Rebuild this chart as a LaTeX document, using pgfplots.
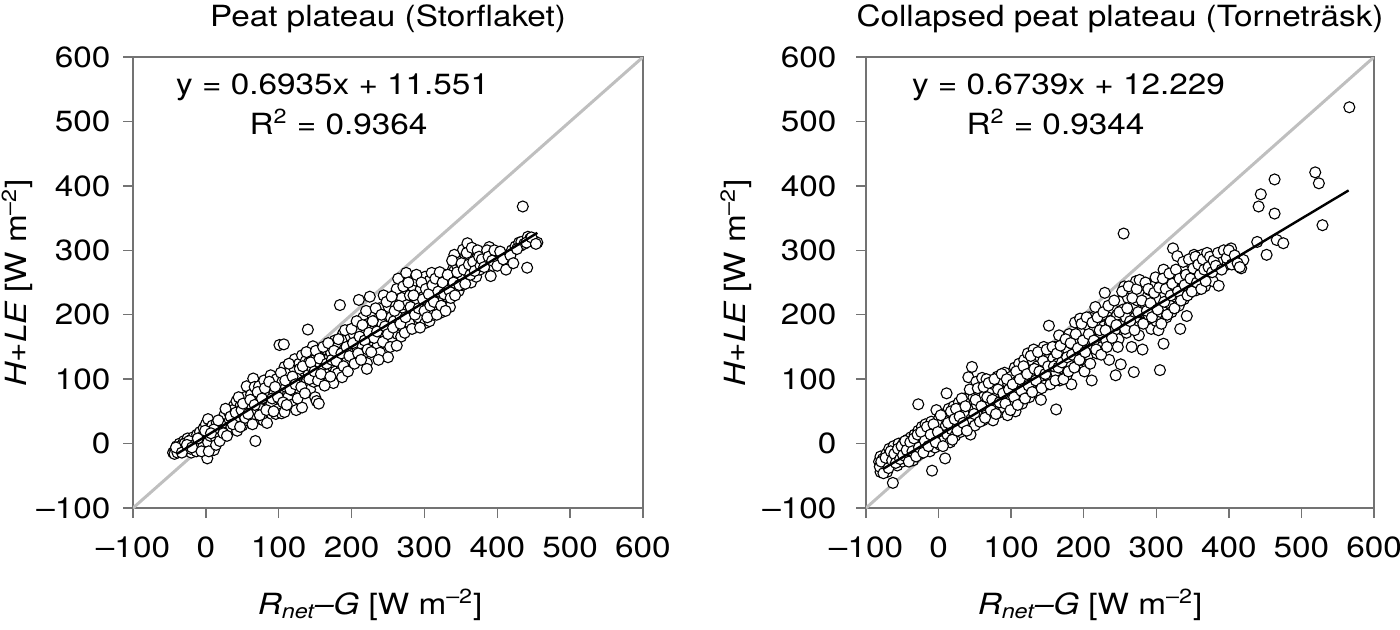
\documentclass[border=0pt]{standalone}
\usepackage{fontspec}
\setmainfont{TeX Gyre Heros}[FakeStretch=1.14]
\usepackage{pgfplots}
\pgfplotsset{compat=1.18}
\usepackage{pgfplotstable}

\pgfplotstableread{
x y
-45 -14
-42 -10
-40 -4
-38 -12
-36 0
-34 -8
-32 -2
-30 4
-30 -12
-28 -6
-27 2
-25 8
-24 -10
-22 -2
-20 6
-20 -14
-18 0
-17 10
-15 -8
-14 4
-12 14
-12 -4
-10 2
-9 -10
-8 18
-7 6
-5 -2
-4 12
-3 24
-2 -8
0 30
0 6
1 16
2 -23
3 38
4 10
5 -4
6 24
8 -6
9 28
10 14
11 -10
12 3
13 20
15 32
16 8
18 22
20 30
21 12
23 38
25 22
26 46
28 30
30 18
31 50
33 36
35 26
36 44
38 58
39 53
40 30
42 66
43 20
44 48
46 40
48 60
50 28
52 44
53 72
55 54
56 89
57 36
59 62
60 48
62 76
63 58
65 101
66 40
67 88
68 4
69 70
70 52
72 64
73 89
75 38
76 80
78 58
79 36
80 98
82 68
84 32
85 84
86 56
88 74
89 106
90 62
92 90
94 78
96 46
97 100
98 53
100 84
101 153
102 70
104 47
105 96
107 154
108 119
108 49
110 88
112 102
113 72
115 110
117 60
118 94
120 82
121 118
122 131
124 52
125 100
127 86
128 124
130 106
132 137
132 56
134 92
135 112
137 128
139 98
140 177
141 125
141 109
143 84
145 140
146 118
147 151
148 96
150 130
150 72
152 66
153 110
155 62
155 138
157 124
159 141
160 100
162 116
164 128
165 146
167 108
169 97
170 134
172 141
174 120
175 94
177 160
178 112
180 150
181 109
183 132
184 215
185 124
187 103
188 170
190 146
192 160
194 128
196 176
198 152
199 166
201 140
203 170
205 181
206 132
208 148
210 223
210 162
212 176
214 154
216 196
217 141
219 170
221 125
221 116
223 186
225 228
226 160
228 200
230 150
232 178
234 192
236 153
238 210
239 141
240 166
242 186
244 230
245 172
247 200
249 156
250 134
251 212
252 178
254 196
256 164
258 190
260 232
261 215
262 240
263 170
264 256
266 200
268 166
269 226
270 182
272 210
273 172
275 265
276 215
277 196
279 188
280 230
282 204
284 244
286 214
288 253
290 222
291 196
293 234
295 240
297 210
299 228
301 259
301 187
303 218
305 244
307 253
307 190
309 226
310 265
312 200
314 236
316 215
318 248
320 230
322 259
322 203
324 242
326 222
328 262
330 236
331 228
333 248
335 212
337 253
339 270
341 268
341 293
343 244
344 278
346 258
347 237
349 282
350 264
352 246
353 256
353 301
355 276
357 290
359 311
360 266
362 284
364 250
366 296
368 290
368 301
370 276
371 259
372 288
374 281
376 270
378 296
380 290
384 284
389 305
391 260
394 276
398 282
402 290
406 294
410 278
413 284
416 280
420 300
425 306
430 312
432 307
433 313
435 368
437 310
441 273
442 321
445 318
451 314
455 312
-43 -16
-39 -14
-35 -4
-31 -10
-29 0
-23 4
-21 -8
-16 -2
-13 -12
-7 0
-4 -6
3 2
6 12
11 22
14 8
-41 -6
-33 -14
-26 -2
-19 -6
-11 8
-6 -12
-1 20
4 -12
7 16
14 -2
17 36
19 4
24 16
27 54
29 12
34 42
37 30
41 48
45 72
47 26
49 52
51 62
54 40
58 46
61 68
64 30
67 60
71 80
74 44
77 70
81 86
83 52
87 96
91 70
93 50
95 88
99 72
103 110
106 64
109 98
111 60
114 124
116 84
119 104
123 92
126 70
129 116
131 88
133 120
136 78
138 142
142 100
144 126
149 112
151 144
154 98
156 132
158 108
161 150
163 90
166 124
168 156
171 104
173 130
176 144
179 128
182 162
186 140
189 120
191 176
193 150
195 112
197 136
200 178
202 156
204 124
207 190
209 140
211 166
213 130
215 184
218 160
220 206
222 146
224 172
227 142
229 190
231 164
233 210
235 174
237 130
241 200
243 158
246 182
248 220
250 170
253 150
255 228
257 180
259 206
262 152
265 214
267 186
271 244
274 196
278 250
281 212
283 178
285 230
287 200
289 262
292 210
294 180
296 250
298 224
300 206
302 240
304 196
306 232
308 214
311 246
313 220
315 256
317 200
319 236
321 266
323 214
325 250
327 232
329 206
332 262
334 238
336 226
338 284
340 250
342 230
345 266
348 246
351 280
354 270
356 248
358 296
361 278
363 262
365 304
367 282
369 268
373 300
375 290
377 276
379 286
382 274
386 300
388 290
393 284
396 300
400 276
404 298
408 286
412 270
418 292
422 280
427 302
440 312
447 320
453 310
}\storflaket

\pgfplotstableread{
x y
-82 -28
-80 -44
-80 -20
-78 -36
-77 -24
-75 -40
-74 -30
-72 -16
-71 -44
-70 -26
-68 -8
-67 -34
-65 -18
-63 -61
-63 -30
-62 -4
-60 -22
-58 -12
-57 -34
-55 0
-54 -20
-52 -8
-50 -28
-48 2
-47 -14
-45 -24
-43 6
-42 -6
-40 -18
-38 10
-37 -2
-35 -26
-33 14
-32 2
-30 -10
-28 61
-28 20
-26 6
-25 -16
-23 26
-22 -4
-20 12
-18 30
-17 -8
-15 4
-13 22
-12 -12
-10 34
-9 -42
-8 8
-6 16
-5 -6
-3 52
-2 26
0 10
1 40
2 -2
4 20
5 32
7 6
8 46
9 -23
10 28
11 78
12 14
14 54
15 36
16 2
18 22
20 44
21 58
23 12
25 30
27 48
28 64
30 18
31 40
33 56
35 24
36 70
38 46
40 30
41 103
42 62
44 14
45 38
46 119
47 54
48 72
50 28
52 96
53 60
55 44
56 82
58 66
60 102
61 36
63 74
65 54
66 100
68 86
70 42
71 64
73 80
75 36
76 92
78 58
80 72
81 104
83 48
85 88
86 66
88 96
90 56
91 110
93 78
95 44
96 92
98 70
100 104
101 62
103 86
105 118
106 50
108 96
110 76
111 124
113 90
115 62
116 108
118 130
120 84
121 100
123 140
125 72
126 114
128 92
130 128
131 146
133 104
135 80
136 120
138 96
140 134
141 68
143 112
145 150
146 90
148 126
150 106
152 183
153 140
155 118
156 96
158 132
160 150
162 53
162 110
164 124
166 168
167 98
169 140
171 116
173 156
174 132
176 104
178 146
180 170
181 126
183 92
185 154
186 136
188 188
190 162
191 120
193 146
195 194
196 130
198 176
200 150
201 112
203 160
205 184
206 138
208 196
210 166
211 98
213 150
215 178
216 212
218 140
220 162
221 190
223 172
225 150
226 200
228 182
229 234
231 160
233 206
235 130
236 186
238 170
240 210
241 192
243 176
244 106
246 200
248 162
250 220
251 123
252 184
254 208
255 326
256 244
258 196
259 172
261 226
263 186
265 240
266 150
268 212
269 111
271 196
272 252
274 222
276 168
278 232
279 204
281 146
283 246
284 188
286 212
288 228
290 198
291 238
293 178
295 218
296 206
298 250
300 190
301 226
303 176
305 114
306 240
308 212
310 155
310 270
312 232
314 196
316 256
317 218
319 244
321 204
323 303
324 262
326 228
328 250
329 291
331 214
333 178
335 240
336 260
338 224
340 272
342 198
344 252
346 234
348 280
350 246
352 293
353 262
355 238
357 268
359 254
361 282
363 293
365 260
367 244
369 276
371 288
373 262
375 280
378 252
380 270
383 290
386 245
388 276
391 284
395 298
398 278
401 292
403 303
406 286
410 282
413 276
417 272
420 285
439 313
441 368
444 387
452 293
463 357
463 410
466 316
475 311
519 421
524 404
529 339
566 522
-81 -36
-79 -28
-76 -46
-73 -22
-69 -38
-66 -12
-64 -26
-61 -16
-59 -30
-56 -8
-53 -24
-51 -4
-49 -18
-46 4
-44 -10
-41 -28
-39 2
-36 -12
-34 8
-31 -20
-29 14
-27 -6
-24 18
-21 -14
-19 4
-16 26
-14 -4
-11 14
-7 30
-4 2
-1 18
3 44
6 -4
13 32
17 50
19 6
22 38
24 54
26 20
29 42
32 70
34 32
37 58
39 20
43 84
49 46
51 68
54 86
57 34
59 58
62 88
64 40
67 72
69 94
72 52
74 68
77 100
79 46
82 84
84 64
87 108
89 78
92 62
94 100
97 84
99 52
102 92
104 72
107 112
109 60
112 100
114 82
117 120
119 70
122 108
124 90
127 136
129 80
132 116
134 98
137 142
139 112
142 86
144 128
147 108
149 146
151 120
154 92
157 150
159 120
161 98
163 140
165 118
168 152
170 126
172 100
175 162
177 134
179 112
182 156
184 138
187 118
189 170
192 148
194 130
197 186
199 160
202 142
204 196
207 170
209 124
212 188
214 160
217 146
219 196
222 176
224 138
227 204
230 176
232 150
234 214
237 190
239 164
242 222
245 184
247 150
249 204
253 236
257 178
260 210
262 244
264 190
267 226
270 176
273 240
275 204
277 254
280 222
282 186
285 250
287 206
289 240
292 218
294 196
297 234
299 258
302 208
304 242
307 186
309 256
311 220
313 240
315 200
318 264
320 230
322 248
325 210
327 270
330 236
332 256
334 222
337 282
339 246
341 262
343 230
345 286
347 256
349 236
351 272
354 290
356 250
358 278
360 262
362 240
364 286
366 270
368 252
370 296
372 274
374 290
377 266
379 284
382 276
385 296
390 270
393 300
397 288
400 300
404 278
408 292
412 280
415 274
}\tornetrask

\newcommand{\fs}{\fontsize{14.6}{17.5}\selectfont}

\pgfplotsset{
  myaxis/.style={
    scale only axis, height=225.5pt,
    xmin=-100, xmax=600, ymin=-100, ymax=600,
    clip marker paths=true,
    xtick={-100,0,100,200,300,400,500,600},
    ytick={-100,0,100,200,300,400,500,600},
    yticklabels={\textendash100,0,100,200,300,400,500,600},
    xtick pos=bottom, ytick pos=left, tick align=outside,
    major tick length=5pt,
    axis line style={draw=black!55, line width=0.75pt},
    tick style={draw=black!55, line width=0.75pt},
    tick label style={font=\fs},
    title style={font=\fs, at={(axis description cs:0.5,1)}, anchor=base, yshift=9.5pt},
    xticklabel style={yshift=-6pt},
    ylabel={\itshape H+LE\upshape\ [W m\textsuperscript{\textendash2}]},
    xlabel={\itshape R\textsubscript{net}\textendash G\upshape\ [W m\textsuperscript{\textendash2}]},
  },
  diag/.style={draw=black!25, line width=1.5pt},
  pts/.style={only marks, mark=*, mark size=2.75pt, mark options={fill=white, draw=black, line width=0.55pt}},
  fit/.style={draw=black, line width=1.2pt},
}

\begin{document}
\begin{tikzpicture}
\begin{axis}[myaxis, width=255pt, at={(66.5pt,60.5pt)}, anchor=south west,
  title={Peat plateau (Storflaket)},
  xticklabels={\textendash100,0,100,200,300,400,500,600},
  yticklabel style={xshift=-2.8pt},
  every axis y label/.style={at={(axis description cs:-0.227,0.5)}, rotate=90, anchor=center, font=\fs},
  every axis x label/.style={at={(axis description cs:0.465,0)}, anchor=base, yshift=-53pt, font=\fs},
]
\addplot[diag] coordinates {(-100,-100) (600,600)};
\addplot[pts] table[x=x,y=y] {\storflaket};
\addplot[fit] coordinates {(-40,-16.19) (455,327.09)};
\node[font=\fs, anchor=base] at (axis cs:174,542) {y = 0.6935x + 11.551};
\node[font=\fs, anchor=base] at (axis cs:182,480) {R\textsuperscript{2} = 0.9364};
\end{axis}

\begin{axis}[myaxis, width=254pt, at={(433pt,60.5pt)}, anchor=south west,
  title={Collapsed peat plateau (Torneträsk)},
  xticklabels={\textendash100,\raisebox{-2pt}{0},100,200,300,400,500,600},
  yticklabel style={xshift=-6.3pt},
  every axis y label/.style={at={(axis description cs:-0.256,0.5)}, rotate=90, anchor=center, font=\fs},
  every axis x label/.style={at={(axis description cs:0.441,0)}, anchor=base, yshift=-53pt, font=\fs},
]
\addplot[diag] coordinates {(-100,-100) (600,600)};
\addplot[pts] table[x=x,y=y] {\tornetrask};
\addplot[fit] coordinates {(-77,-39.66) (565,392.98)};
\node[font=\fs, anchor=base] at (axis cs:179,542) {y = 0.6739x + 12.229};
\node[font=\fs, anchor=base] at (axis cs:161,480) {R\textsuperscript{2} = 0.9344};
\end{axis}
\pgfresetboundingbox
\path (0,0) rectangle (700pt,314.5pt);
\end{tikzpicture}
\end{document}
